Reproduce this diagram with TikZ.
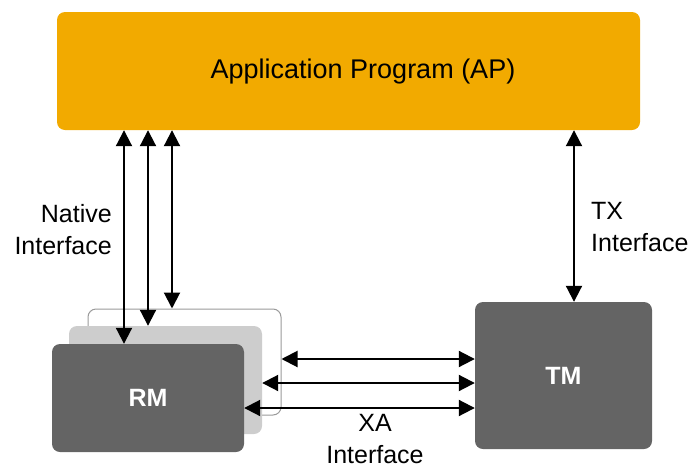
\documentclass[tikz,border=0pt]{standalone}
\usepackage{fontspec}
\setmainfont{Liberation Sans}
\usetikzlibrary{arrows.meta}
\definecolor{apc}{HTML}{F2AA00}
\definecolor{dk}{HTML}{646464}
\definecolor{lt}{HTML}{CDCDCD}
\definecolor{bd}{HTML}{9A9A9A}
\tikzset{
  box/.style={rectangle, rounded corners=8pt, inner sep=0pt},
  arr/.style={line width=2pt, {Triangle[length=16pt,width=16pt]}-{Triangle[length=16pt,width=16pt]}},
  lbl/.style={inner sep=0pt, font=\fontsize{25}{32}\selectfont},
  boxtxt/.style={text=white, font=\fontsize{25}{30}\selectfont\bfseries}
}
\begin{document}
\begin{tikzpicture}[x=1pt,y=-1pt]
\useasboundingbox (0,0) rectangle (696,469);
\node[box, fill=apc, minimum width=583pt, minimum height=118pt] (ap) at (348.5,71) {};
\node[inner sep=0pt, font=\fontsize{27}{32}\selectfont] (aptxt) at (363,72) {Application Program (AP)};
\node[box, fill=white, draw=bd, line width=1pt, minimum width=193pt, minimum height=106pt] (rmb) at (184.5,362) {};
\node[box, fill=lt, minimum width=193pt, minimum height=108pt] (rmm) at (165.5,380) {};
\node[box, fill=dk, minimum width=192pt, minimum height=108pt, boxtxt] (rmf) at (148,398) {RM};
\node[box, fill=dk, minimum width=177pt, minimum height=147pt, boxtxt] (tm) at (563.5,375.5) {TM};
\coordinate (v1) at (124,0);
\coordinate (v2) at (148,0);
\coordinate (v3) at (172,0);
\coordinate (v4) at (574,0);
\coordinate (h1) at (0,359);
\coordinate (h2) at (0,383);
\coordinate (h3) at (0,408);
\draw[arr] (ap.south -| v1) -- (rmf.north -| v1);
\draw[arr] (ap.south -| v2) -- (rmm.north -| v2);
\draw[arr] (ap.south -| v3) -- (rmb.north -| v3);
\draw[arr] (ap.south -| v4) -- (tm.north -| v4);
\draw[arr] (rmb.east |- h1) -- (tm.west |- h1);
\draw[arr] (rmm.east |- h2) -- (tm.west |- h2);
\draw[arr] (rmf.east |- h3) -- (tm.west |- h3);
\node[lbl, anchor=east, align=right] (nat) at (112,230) {Native\\Interface};
\node[lbl, anchor=west, align=left] (tx) at (591,227) {TX\\Interface};
\node[lbl, align=center] (xa) at (375,439) {XA\\Interface};
\end{tikzpicture}
\end{document}
